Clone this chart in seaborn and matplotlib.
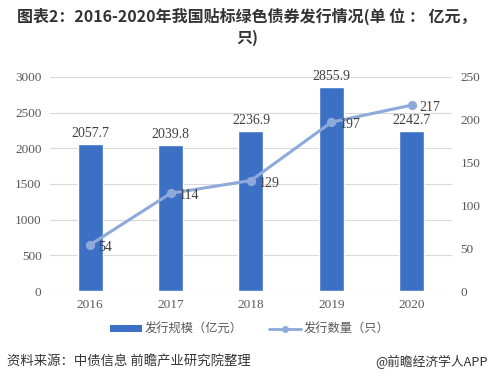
import matplotlib
matplotlib.use("Agg")
import matplotlib.pyplot as plt
import seaborn as sns
import pandas as pd
import numpy as np
from matplotlib.lines import Line2D
from matplotlib.patches import Patch

years = ["2016", "2017", "2018", "2019", "2020"]
scale = [2057.7, 2039.8, 2236.9, 2855.9, 2242.7]
count = [54, 114, 129, 197, 217]
left_ticks = [0, 500, 1000, 1500, 2000, 2500, 3000]
right_ticks = [0, 50, 100, 150, 200, 250]

sns.set_theme(style="white")
plt.rcParams['font.family'] = ['Noto Sans CJK SC', 'DejaVu Sans']
num_font = ['Liberation Serif', 'DejaVu Serif']

df = pd.DataFrame({"year": years, "scale": scale, "count": count})

fig = plt.figure(figsize=(4.94, 3.84), dpi=100)
ax = fig.add_axes([0.101, 0.242, 0.814, 0.558])
bar_color = "#3b70c4"
line_color = "#8eaadb"

sns.barplot(data=df, x="year", y="scale", color=bar_color, width=0.31,
            saturation=1, ax=ax, zorder=2)
ax.set_ylim(0, 3000)
ax.set_yticks(left_ticks)
ax.set_xlim(-0.5, 4.5)
ax.yaxis.grid(True, color="#d9d9d9", linewidth=0.8, zorder=0)
ax.set_axisbelow(True)
for s in ax.spines.values():
    s.set_visible(False)
ax.set_xlabel("")
ax.set_ylabel("")
ax.tick_params(axis="both", length=0, labelsize=9.5, colors="#595959", pad=6)
for lab in ax.get_xticklabels() + ax.get_yticklabels():
    lab.set_fontfamily(num_font)

for i, v in enumerate(scale):
    ax.text(i, v + 60, f"{v}", ha="center", va="bottom", fontsize=10,
            color="#404040", family=num_font)

ax2 = ax.twinx()
sns.pointplot(data=df, x="year", y="count", color=line_color, markers="o",
              markersize=5, linewidth=2.2, ax=ax2, zorder=3)
ax2.set_ylim(0, 250)
ax2.set_yticks(right_ticks)
ax2.set_xlim(-0.5, 4.5)
for s in ax2.spines.values():
    s.set_visible(False)
ax2.set_ylabel("")
ax2.set_xlabel("")
ax2.tick_params(axis="both", length=0, labelsize=9.5, colors="#595959", pad=6)
for lab in ax2.get_yticklabels():
    lab.set_fontfamily(num_font)

for i, v in enumerate(count):
    ax2.text(i + 0.1, v - 3, f"{v}", ha="left", va="center", fontsize=10,
             color="#404040", family=num_font)

fig.text(0.5, 0.958, "图表2：2016-2020年我国贴标绿色债券发行情况(单 位 ： 亿元，",
         ha="center", va="center", fontsize=11.5, fontweight="bold", color="#333333")
fig.text(0.5, 0.902, "只)", ha="center", va="center", fontsize=11.5,
         fontweight="bold", color="#333333")

handles = [Patch(facecolor=bar_color, edgecolor="none"),
           Line2D([0], [0], color=line_color, linewidth=2, marker="o", markersize=4)]
fig.legend(handles, ["发行规模（亿元）", "发行数量（只）"], loc="center",
           bbox_to_anchor=(0.505, 0.142), ncol=2, frameon=False, fontsize=8.8,
           handlelength=2.6, handleheight=0.5, columnspacing=2.2, handletextpad=0.2,
           labelcolor="#595959")

fig.text(0.014, 0.057, "资料来源：中债信息 前瞻产业研究院整理", ha="left", va="center",
         fontsize=9.6, color="#333333")
fig.text(0.988, 0.057, "@前瞻经济学人APP", ha="right", va="center",
         fontsize=9.2, color="#333333")

fig.savefig("out.png", dpi=100)
